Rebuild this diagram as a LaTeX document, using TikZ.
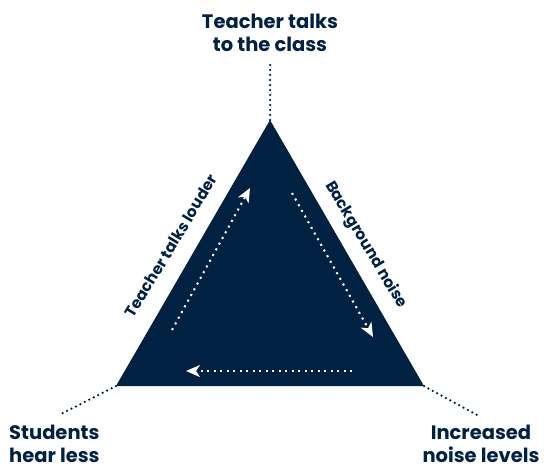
\documentclass[tikz,border=0pt]{standalone}
\usepackage{fontspec}
\setmainfont{Poppins}
\usetikzlibrary{arrows.meta, positioning}
\definecolor{navy}{HTML}{002142}

\begin{document}
\begin{tikzpicture}[x=1pt, y=-1pt,
    corner/.style={font=\fontsize{19.5}{23}\selectfont\bfseries, text=navy, align=center, inner sep=0pt},
    side/.style={font=\fontsize{15.5}{18}\selectfont\bfseries, text=navy, inner sep=0pt},
    leader/.style={navy, line width=2.5pt, line cap=round, dash pattern=on 0pt off 5pt},
    cycarrow/.style={white, line width=2pt, dash pattern=on 2pt off 4.5pt,
        -{Stealth[length=14pt, width=12pt, inset=4pt]}}]
    \useasboundingbox (0,0) rectangle (544,468);

    % Triangle
    \coordinate (top) at (270,120);
    \coordinate (left) at (116,386);
    \coordinate (right) at (424,386);
    \fill[navy] (top) -- (left) -- (right) -- cycle;

    % Corner labels
    \node[corner, anchor=base] (ttop) at (270,52) {Teacher talks\\to the class};
    \node[corner, align=left, anchor=base west] (tleft) at (9,462) {Students\\hear less};
    \node[corner, anchor=base] (tright) at (481,462) {Increased\\noise levels};

    % Leaders
    \coordinate (tend) at (270,63);
    \coordinate (lend) at (61,414);
    \coordinate (rend) at (477,415);
    \draw[leader] (top) -- (tend);
    \draw[leader] (left) -- (lend);
    \draw[leader] (right) -- (rend);

    % Side labels
    \node[side, rotate=59] (sleft) at (171,246) {Teacher talks louder};
    \node[side, rotate=-59] (sright) at (366,245) {Background noise};

    % Cycle arrows
    \coordinate (a1) at (172,330);
    \coordinate (a2) at (250,188);
    \coordinate (b1) at (292,193);
    \coordinate (b2) at (373,337);
    \coordinate (c1) at (352,371);
    \coordinate (c2) at (186,371);
    \draw[cycarrow] (a1) -- (a2);
    \draw[cycarrow] (b1) -- (b2);
    \draw[cycarrow] (c1) -- (c2);
\end{tikzpicture}
\end{document}
